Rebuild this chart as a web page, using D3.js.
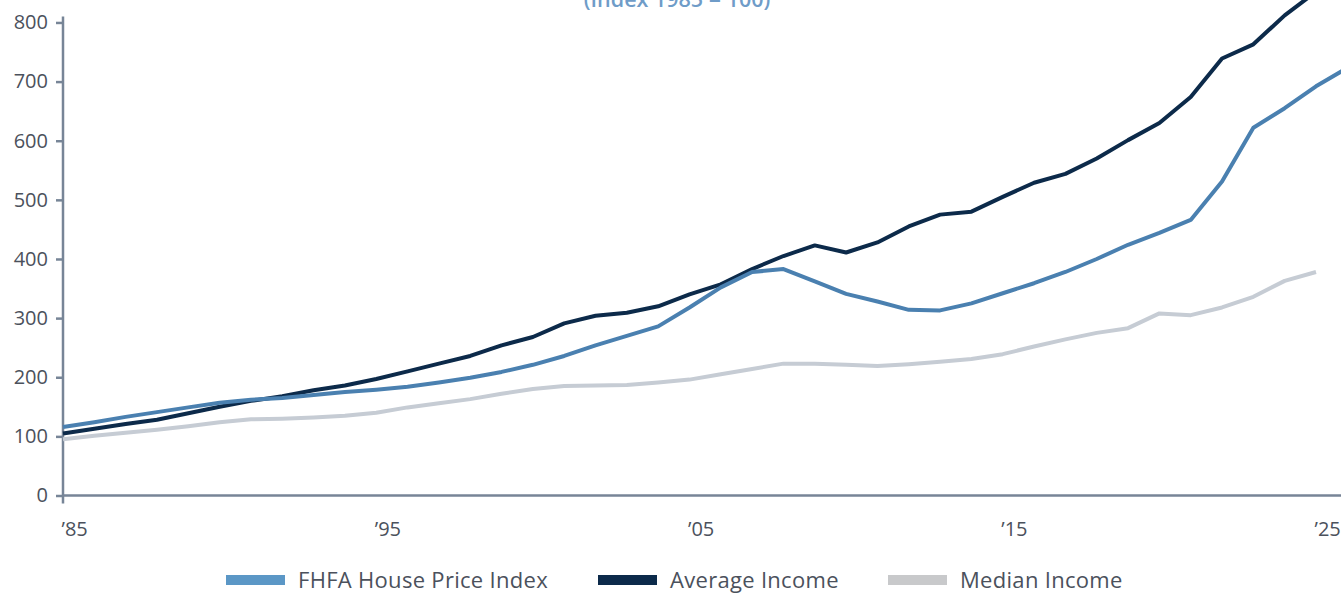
<!DOCTYPE html>
<html>
<head>
<meta charset="utf-8">
<script src="https://cdn.jsdelivr.net/npm/d3@7"></script>
<style>
  html, body { margin: 0; padding: 0; background: #fff; overflow: hidden; }
  svg { display: block; }
  text { font-family: "Open Sans", "Noto Sans", sans-serif; }
</style>
</head>
<body>
<div id="chart"></div>
<script>
// data (index, 1985 = 100)
var years = d3.range(1985, 2027);
var fhfa = [116,124,133,141,149,157,162,165,170,175,179,184,191,199,209,221,236,254,270,286,
            318,352,378,383,362,341,328,314,313,325,342,359,378,400,424,444,466,531,622,655,692,723];
var avgIncome = [105,113,121,128,139,150,160,168,178,186,197,210,223,236,254,268,291,304,309,320,
                 340,357,383,405,423,411,428,455,475,480,505,529,544,570,601,630,674,739,763,812,852,895];
var medIncome = [95,101,106,111,117,124,129,130,132,135,140,149,156,163,172,180,185,186,187,191,
                 196,205,214,223,223,221,219,222,226,231,239,252,264,275,283,308,305,318,336,363,378];
var yTicks = [0,100,200,300,400,500,600,700,800];
var xTicks = [1985,1995,2005,2015,2025];
var seriesNames = ["FHFA House Price Index", "Average Income", "Median Income"];

// set the specs
var width = 1341;
var height = 593;
var marginLeft = 63;
var marginBottom = 98;

var svg = d3.select("#chart")
            .append("svg")
            .attr("width", width)
            .attr("height", height);

var xScale = d3.scaleLinear()
                .domain([1985, 2025])
                .range([marginLeft, 1316]);

var yScale = d3.scaleLinear()
                .domain([0, 810])
                .range([height - marginBottom + 0.5, height - marginBottom + 0.5 - 810 * 0.5913]);

var axisColor = "#778597";
var labelColor = "#4b515c";

// title (cut off at the top in the original)
svg.append("text")
    .attr("x", 677)
    .attr("y", 7)
    .attr("text-anchor", "middle")
    .attr("font-size", 21.5)
    .attr("font-weight", 600)
    .attr("fill", "#6f9cc8")
    .text("(Index 1985 = 100)");

// y axis
var yAxis = d3.axisLeft(yScale)
              .tickValues(yTicks)
              .tickSizeInner(7)
              .tickSizeOuter(0)
              .tickPadding(8);

var gy = svg.append("g")
    .attr("transform", "translate(" + marginLeft + ",0)")
    .call(yAxis);
gy.select(".domain").attr("stroke", axisColor).attr("stroke-width", 2.5)
    .attr("d", "M0," + (yScale(0) + 8) + "V" + yScale(810));
gy.selectAll(".tick line").attr("stroke", axisColor).attr("stroke-width", 2.5);
gy.selectAll(".tick text")
    .attr("fill", labelColor)
    .attr("font-size", 20)
    .style("font-family", "'Open Sans', sans-serif");

// x axis
var xAxis = d3.axisBottom(xScale)
              .tickValues(xTicks)
              .tickSize(0)
              .tickPadding(26)
              .tickFormat(function(d){ return "\u2019" + String(d).slice(2); });

var gx = svg.append("g")
    .attr("transform", "translate(0," + yScale(0) + ")")
    .call(xAxis);
gx.select(".domain").attr("stroke", axisColor).attr("stroke-width", 2.5)
    .attr("d", "M" + marginLeft + ",0H" + width);
gx.selectAll(".tick text")
    .attr("fill", labelColor)
    .attr("font-size", 20)
    .attr("text-anchor", "start")
    .attr("dx", -2)
    .style("font-family", "'Open Sans', sans-serif");

// lines
var series = [
  { name: seriesNames[2], values: medIncome, color: "#c6ccd4" },
  { name: seriesNames[1], values: avgIncome, color: "#0c2a4a" },
  { name: seriesNames[0], values: fhfa, color: "#4a80b0" }
];

var line = d3.line()
             .x(function(d){ return xScale(d.year); })
             .y(function(d){ return yScale(d.value); });

series.forEach(function(s){
  var pts = s.values.map(function(v, i){ return { year: years[i], value: v }; });
  svg.append("path")
      .datum(pts)
      .attr("fill", "none")
      .attr("stroke", s.color)
      .attr("stroke-width", 4)
      .attr("stroke-linejoin", "round")
      .attr("d", line);
});

// legend
var legendItems = [
  { name: seriesNames[0], color: "#5b97c6", x: 226 },
  { name: seriesNames[1], color: "#0c2a4a", x: 598 },
  { name: seriesNames[2], color: "#c8c9cb", x: 888 }
];

var legend = svg.append("g").attr("class", "legend");
legendItems.forEach(function(d){
  legend.append("rect")
      .attr("x", d.x)
      .attr("y", 575)
      .attr("width", 59)
      .attr("height", 10)
      .attr("fill", d.color);
  legend.append("text")
      .attr("x", d.x + 72)
      .attr("y", 588)
      .attr("font-size", 22)
      .attr("letter-spacing", 0.3)
      .attr("fill", labelColor)
      .text(d.name);
});
</script>
</body>
</html>
